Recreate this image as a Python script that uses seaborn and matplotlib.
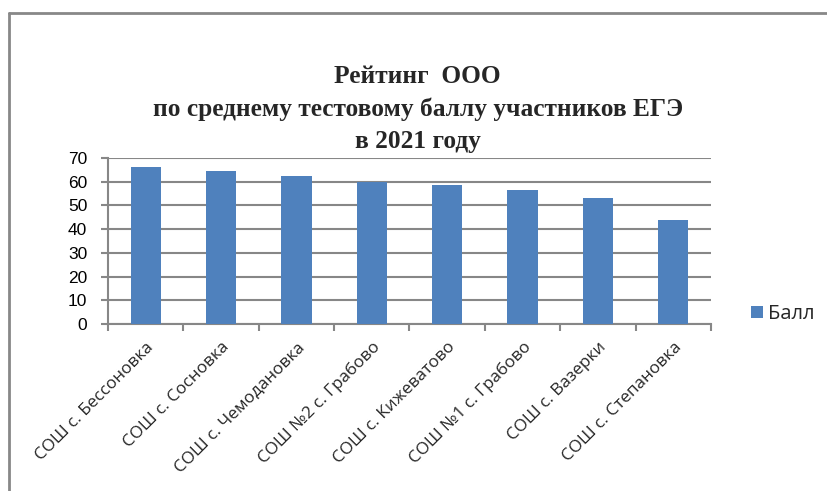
import matplotlib
matplotlib.use('Agg')
import matplotlib.pyplot as plt
import matplotlib.lines as mlines
import seaborn as sns

# Data
schools = ['СОШ с. Бессоновка', 'СОШ с. Сосновка', 'СОШ с. Чемодановка',
           'СОШ №2 с. Грабово', 'СОШ с. Кижеватово', 'СОШ №1 с. Грабово',
           'СОШ с. Вазерки', 'СОШ с. Степановка']
scores = [66.4, 64.5, 62.3, 60.0, 58.8, 56.6, 53.1, 44.0]
series_name = 'Балл'
y_ticks = [0, 10, 20, 30, 40, 50, 60, 70]

sns.set_style('white')
plt.rcParams['font.family'] = ['Liberation Sans', 'DejaVu Sans']

fig = plt.figure(figsize=(8.27, 4.91), dpi=100)
ax = fig.add_axes([0.1306, 0.3401, 0.7291, 0.3381])

sns.barplot(x=schools, y=scores, color='#4F81BD', saturation=1, width=0.4,
            linewidth=0, label=series_name, ax=ax, zorder=3)

ax.set_ylim(0, 70)
ax.set_xlim(-0.5, len(schools) - 0.5)
ax.set_yticks(y_ticks)
ax.yaxis.grid(True, color='#878787', linewidth=1.5, zorder=0)
ax.set_axisbelow(True)

for side in ['top', 'right']:
    ax.spines[side].set_visible(False)
for side in ['left', 'bottom']:
    ax.spines[side].set_color('#878787')
    ax.spines[side].set_linewidth(1.5)

ax.tick_params(axis='y', length=5, width=1.5, color='#878787', pad=10,
               labelsize=12.5, labelcolor='black', left=True)
ax.tick_params(axis='x', which='major', length=0, pad=11)
ax.set_xticks([i - 0.5 for i in range(len(schools) + 1)], minor=True)
ax.tick_params(axis='x', which='minor', length=5, width=1.5,
               color='#878787', bottom=True)

ax.set_xticks(range(len(schools)))
ax.set_xticklabels(schools, rotation=45, ha='right', va='top',
                   rotation_mode='anchor', fontsize=12.3,
                   family=['Open Sans', 'DejaVu Sans'])
ax.set_xlabel('')
ax.set_ylabel('')

leg = ax.legend(loc='center left', bbox_to_anchor=(751 / 827, 1 - 314 / 491),
                bbox_transform=fig.transFigure, frameon=False,
                borderaxespad=0, borderpad=0,
                handlelength=0.6, handleheight=0.6, handletextpad=0.25,
                prop={'family': ['Open Sans', 'DejaVu Sans'], 'size': 14.5})

fig.text(0.505, 1 - 65 / 491,
         'Рейтинг  ООО\nпо среднему тестовому баллу участников ЕГЭ\nв 2021 году',
         ha='center', va='top', fontsize=18.3, fontweight='bold',
         family=['Liberation Serif', 'DejaVu Serif'], linespacing=1.5)

# outer chart frame
fig.add_artist(mlines.Line2D([9 / 827, 1], [1 - 13 / 491, 1 - 13 / 491],
                             color='#888888', linewidth=2,
                             transform=fig.transFigure))
fig.add_artist(mlines.Line2D([9 / 827, 9 / 827], [0, 1 - 13 / 491],
                             color='#888888', linewidth=2,
                             transform=fig.transFigure))

fig.savefig('out.png', dpi=100)
